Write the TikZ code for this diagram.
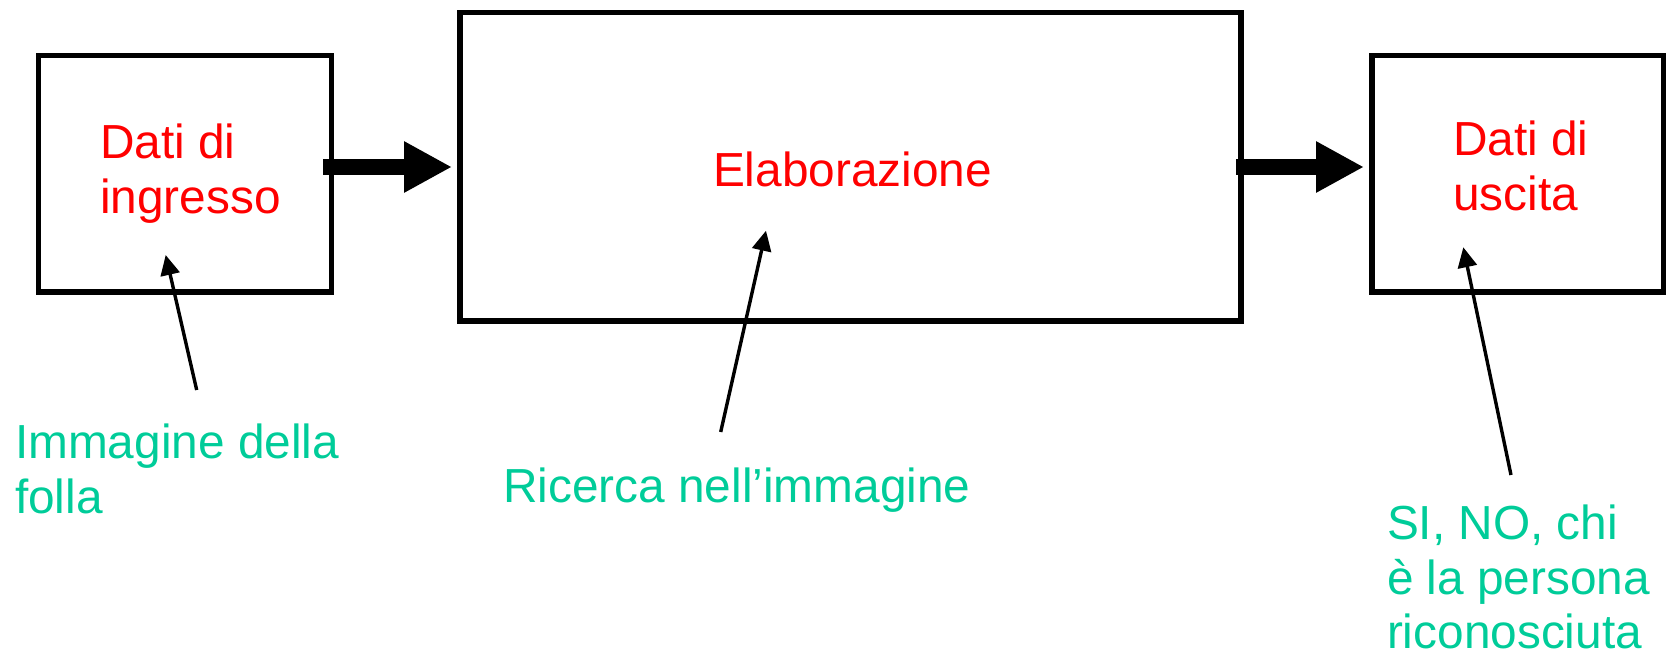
\documentclass[tikz,border=0pt]{standalone}
\usepackage{fontspec}
\setmainfont{Liberation Sans}
\usetikzlibrary{arrows.meta}
\definecolor{lblred}{RGB}{255,0,0}
\definecolor{lblgreen}{RGB}{0,204,153}
\begin{document}
\begin{tikzpicture}[x=0.5pt,y=-0.5pt,
  blockbox/.style={draw=black, line width=2.75pt, inner sep=0pt, outer sep=0pt, fill=white},
  redtext/.style={anchor=north west, inner sep=0pt, outer sep=0pt, align=left, text=lblred,
    font=\fontsize{23.9pt}{27.25pt}\selectfont},
  greentext/.style={anchor=north west, inner sep=0pt, outer sep=0pt, align=left, text=lblgreen,
    font=\fontsize{23.9pt}{27.25pt}\selectfont},
  flowarrow/.style={draw=black, line width=8pt, -{Triangle[length=24pt,width=24pt]}},
  notearrow/.style={draw=black, line width=1.7pt, -{Triangle[length=10pt,width=9.5pt]}}
]
\useasboundingbox (0,0) rectangle (1666,658);
% boxes
\node[blockbox, minimum width=146.5pt, minimum height=118.25pt] (b1) at (185,173.75) {};
\node[blockbox, minimum width=390.5pt, minimum height=154.25pt] (b2) at (850.5,166.75) {};
\node[blockbox, minimum width=145.75pt, minimum height=118.25pt] (b3) at (1517.75,173.75) {};
% box texts
\node[redtext] (t1) at (100,124) {Dati di\\ingresso};
\node[redtext] (t2) at (713,152) {Elaborazione};
\node[redtext] (t3) at (1453,121) {Dati di\\uscita};
% notes
\node[greentext] (n1) at (15,424) {Immagine della\\folla};
\node[greentext] (n2) at (503,468) {Ricerca nell’immagine};
\node[greentext] (n3) at (1387,505) {SI, NO, chi\\è la persona\\riconosciuta};
% flow arrows
\coordinate (f1s) at (323,167);
\coordinate (f1e) at (452,167);
\coordinate (f2s) at (1236,167);
\coordinate (f2e) at (1364,167);
\draw[flowarrow] (f1s) -- (f1e);
\draw[flowarrow] (f2s) -- (f2e);
% note arrows
\coordinate (p1s) at (196.7,390);
\coordinate (p1e) at (165.7,255);
\coordinate (p2s) at (720.7,432);
\coordinate (p2e) at (766,230.7);
\coordinate (p3s) at (1511,475);
\coordinate (p3e) at (1463.3,247.3);
\draw[notearrow] (p1s) -- (p1e);
\draw[notearrow] (p2s) -- (p2e);
\draw[notearrow] (p3s) -- (p3e);
\end{tikzpicture}
\end{document}
